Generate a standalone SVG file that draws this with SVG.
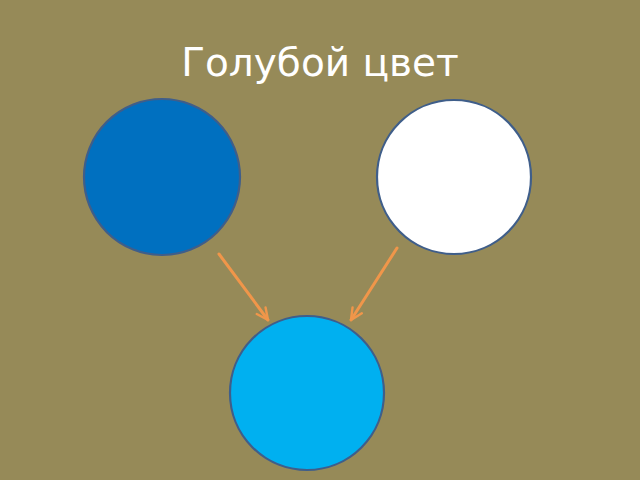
<svg xmlns="http://www.w3.org/2000/svg" width="640" height="480" viewBox="0 0 640 480">
<style>
.c{stroke:#3F5E8A;stroke-width:2.2}
.a{stroke:#F0964A;stroke-width:3;fill:none;stroke-linecap:round}
.t{font-family:"DejaVu Sans",sans-serif;font-size:39px;fill:#FFFFFF}
</style>
<defs>
<marker id="ah" viewBox="0 0 14 14" refX="13" refY="7" markerWidth="14" markerHeight="14" markerUnits="userSpaceOnUse" orient="auto">
<path d="M1.5,1.5 L13,7 L1.5,12.5" fill="none" stroke="#F0964A" stroke-width="2.4" stroke-linecap="round" stroke-linejoin="round"/>
</marker>
</defs>
<rect width="640" height="480" fill="#968A58"/>
<text class="t" x="320" y="76" text-anchor="middle">Голубой цвет</text>
<g id="connectors">
<line class="a" x1="219" y1="254" x2="268" y2="320" marker-end="url(#ah)"/>
<line class="a" x1="397" y1="248" x2="351" y2="320" marker-end="url(#ah)"/>
</g>
<g id="blue"><circle class="c" cx="162" cy="177" r="78" fill="#0070C0"/></g>
<g id="white"><circle class="c" cx="454" cy="177" r="77" fill="#FFFFFF"/></g>
<g id="lightblue"><circle class="c" cx="307" cy="393" r="77" fill="#00B0F0"/></g>
</svg>
